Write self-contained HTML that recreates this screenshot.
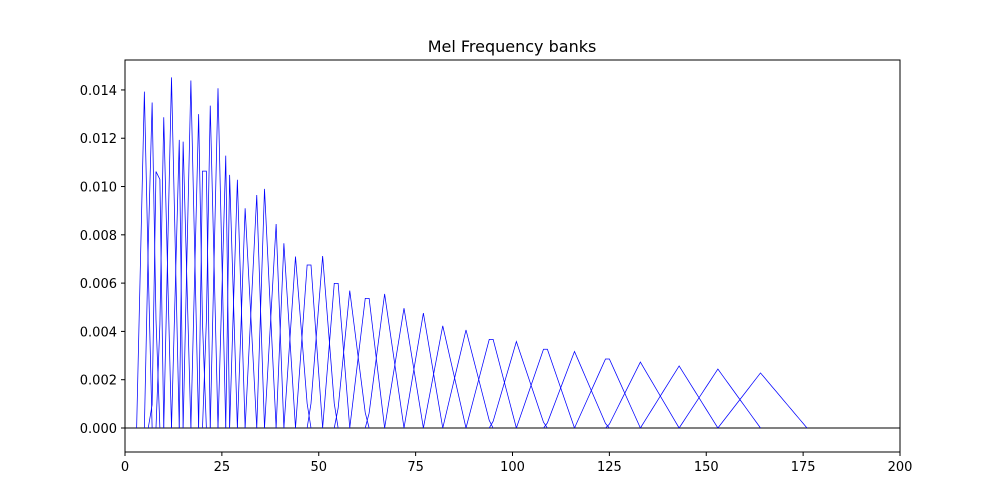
<!DOCTYPE html>
<html><head><meta charset="utf-8"><style>
html,body{margin:0;padding:0;background:#fff;}
svg{display:block;font-family:"DejaVu Sans","Liberation Sans",sans-serif;}
</style></head><body>
<svg id="chart" width="1000" height="500" viewBox="0 0 1000 500">
<rect x="0" y="0" width="1000" height="500" fill="#fff"/>
<text x="512" y="52" text-anchor="middle" font-size="16" fill="#000">Mel Frequency banks</text>
<g id="plot"></g>
<g id="axes"></g>
</svg>
<script>
const centers = [5,6.9,8.5,10,12,14,15,17,19,20.5,22,24,26,27,29,31,34,36,39,41,44,47.5,51,54.5,58,62.5,67,72,77,82,88,94.5,101,108.5,116,124.5,133,143,153,164];
const heights = [0.01393,0.01348,0.01062,0.01287,0.01452,0.01193,0.01186,0.01439,0.01300,0.01064,0.01335,0.01407,0.01128,0.01048,0.01028,0.00910,0.00965,0.00990,0.00845,0.00765,0.00710,0.00675,0.00712,0.00599,0.00569,0.00537,0.00555,0.00496,0.00476,0.00423,0.00406,0.00367,0.00358,0.00326,0.00317,0.00286,0.00273,0.00257,0.00244,0.00228];
const firstEdge = 3;
const lastEdge = 176;
const xTicks = [0,25,50,75,100,125,150,175,200];
const yTicks = [0,0.002,0.004,0.006,0.008,0.010,0.012,0.014];
const yTickLabels = ["0.000","0.002","0.004","0.006","0.008","0.010","0.012","0.014"];

const L=125,R=900,T=60,B=452;
const xMin=0,xMax=200,yMin=-0.000994,yMax=0.01524;
const xs=v=>L+(v-xMin)/(xMax-xMin)*(R-L);
const ys=v=>B-(v-yMin)/(yMax-yMin)*(B-T);
const NS="http://www.w3.org/2000/svg";
const plot=document.getElementById('plot');
const axes=document.getElementById('axes');
function mk(tag,attrs,parent){const e=document.createElementNS(NS,tag);for(const k in attrs)e.setAttribute(k,attrs[k]);parent.appendChild(e);return e;}

// zero line
const zl=mk('line',{x1:xs(0),x2:xs(200),y1:ys(0),y2:ys(0),stroke:'#000','stroke-width':1},plot);



for(let i=0;i<centers.length;i++){
  const lo=i===0?firstEdge:centers[i-1];
  const c=centers[i];
  const hi=i===centers.length-1?lastEdge:centers[i+1];
  const tri=k=>{if(k<=lo||k>=hi)return 0;return k<=c?(k-lo)/(c-lo):(hi-k)/(hi-c);};
  let mx=0;
  for(let k=Math.floor(lo);k<=Math.ceil(hi);k++)mx=Math.max(mx,tri(k));
  const pts=[];
  for(let k=Math.floor(lo);k<=Math.ceil(hi);k++){
    const v=mx>0?heights[i]*tri(k)/mx:0;
    pts.push(xs(k).toFixed(2)+','+ys(v).toFixed(2));
  }
  const p=mk('polyline',{points:pts.join(' '),fill:'none',stroke:'#0000ff','stroke-width':0.75,'stroke-linejoin':'miter'},plot);
  
  
}

// frame
const fr=mk('rect',{x:L,y:T,width:R-L,height:B-T,fill:'none',stroke:'#000','stroke-width':1},axes);



xTicks.forEach(v=>{
  const x=xs(v);
  const t=mk('line',{x1:x,x2:x,y1:B,y2:B+4,stroke:'#000','stroke-width':1},axes);
  
  
  const tx=mk('text',{x:x,y:B+19,'text-anchor':'middle','font-size':13,fill:'#000'},axes);
  tx.textContent=String(v);
  
  
});
yTicks.forEach((v,i)=>{
  const y=ys(v);
  const t=mk('line',{x1:L-4,x2:L,y1:y,y2:y,stroke:'#000','stroke-width':1},axes);
  
  
  const tx=mk('text',{x:L-8,y:y+5,'text-anchor':'end','font-size':13,fill:'#000'},axes);
  tx.textContent=yTickLabels[i];
  
  
});
</script>
</body></html>
